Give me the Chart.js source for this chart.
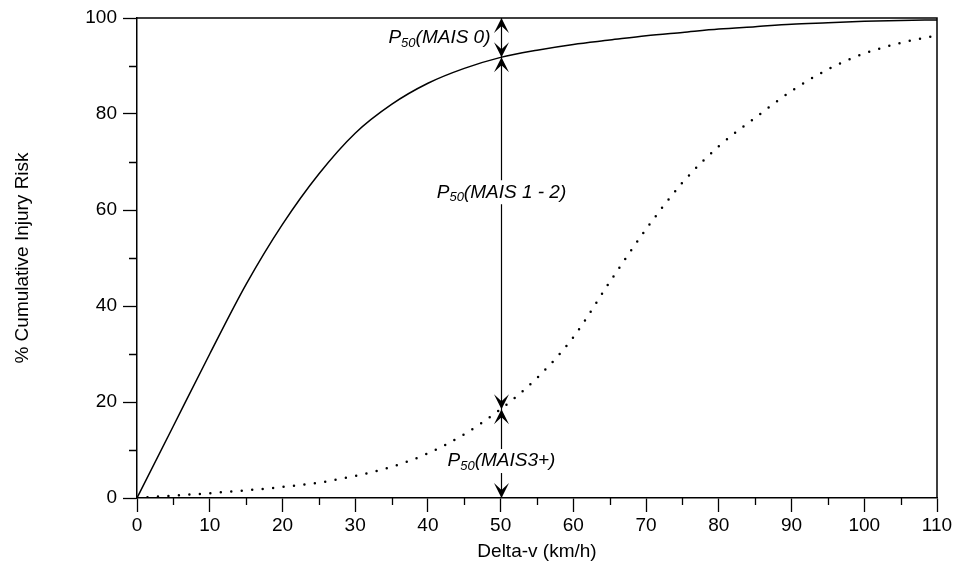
<!DOCTYPE html>
<html>
<head>
<meta charset="utf-8">
<script src="https://cdn.jsdelivr.net/npm/chart.js@4.4.1/dist/chart.umd.min.js"></script>
<style>
  html, body { margin: 0; padding: 0; background: #fff; }
  #wrap { width: 956px; height: 572px; }
</style>
</head>
<body>
<div id="wrap"><canvas id="riskChart" width="956" height="572"></canvas></div>
<script>
// values
const deltaV = [0, 5, 10, 15, 20, 25, 30, 35, 40, 45, 50, 55, 60, 65, 70, 75, 80, 85, 90, 95, 100, 105, 110];
const riskMais1Plus = [0, 15, 30, 44.5, 57, 67.5, 76, 82, 86.4, 89.5, 91.8, 93.3, 94.5, 95.4, 96.3, 97, 97.7, 98.2, 98.7, 99, 99.3, 99.5, 99.6];
const riskMais3Plus = [0, 0.5, 1.0, 1.6, 2.3, 3.2, 4.6, 6.5, 9.3, 13.3, 18.5, 25, 33.5, 45, 56, 65.7, 73.3, 79.2, 84.8, 89.3, 92.6, 94.8, 96.4];

const xMinorTicks = [5, 15, 25, 35, 45, 55, 65, 75, 85, 95, 105];
const yMinorTicks = [10, 30, 50, 70, 90];

// P50 arrows sit at 50 km/h
const p50Speed = 50;
const p50Labels = ['MAIS 0', 'MAIS 1 - 2', 'MAIS3+'];

const FONT = '"Liberation Sans", Arial, sans-serif';

const toXY = arr => deltaV.map((x, i) => ({ x: x, y: arr[i] }));
const valueAt = arr => arr[deltaV.indexOf(p50Speed)];

// frame + minor ticks
const framePlugin = {
  id: 'frame',
  afterDraw(chart) {
    const { ctx, chartArea: a, scales: { x, y } } = chart;
    ctx.save();
    ctx.strokeStyle = '#000';
    ctx.lineWidth = 1.5;
    ctx.beginPath();
    ctx.moveTo(a.left, a.top);
    ctx.lineTo(a.right, a.top);
    ctx.lineTo(a.right, a.bottom);
    ctx.stroke();

    ctx.lineWidth = 1.3;
    ctx.beginPath();
    xMinorTicks.forEach(v => {
      const px = Math.round(x.getPixelForValue(v)) + 0.5;
      ctx.moveTo(px, a.bottom);
      ctx.lineTo(px, a.bottom + 7);
    });
    yMinorTicks.forEach(v => {
      const py = Math.round(y.getPixelForValue(v)) + 0.5;
      ctx.moveTo(a.left, py);
      ctx.lineTo(a.left - 8, py);
    });
    ctx.stroke();
    ctx.restore();
  }
};

function arrowHead(ctx, px, py, dir) {
  // dir: -1 points up, 1 points down
  ctx.beginPath();
  ctx.moveTo(px, py);
  ctx.lineTo(px - 7.5, py - dir * 15);
  ctx.lineTo(px, py - dir * 8);
  ctx.lineTo(px + 7.5, py - dir * 15);
  ctx.closePath();
  ctx.fill();
}

function labelP50(ctx, text, px, py, align) {
  const big = 'italic 19px ' + FONT;
  const small = 'italic 13px ' + FONT;
  ctx.font = big;
  const wP = ctx.measureText('P').width;
  const wRest = ctx.measureText('(' + text + ')').width;
  ctx.font = small;
  const wSub = ctx.measureText('50').width;
  const total = wP + wSub + wRest;
  let x0 = align === 'right' ? px - total : px - total / 2;
  if (align !== 'right') {
    ctx.fillStyle = '#fff';
    ctx.fillRect(x0 - 2, py - 12, total + 4, 24);
  }
  ctx.fillStyle = '#000';
  ctx.textBaseline = 'middle';
  ctx.textAlign = 'left';
  ctx.font = big;
  ctx.fillText('P', x0, py);
  ctx.font = small;
  ctx.fillText('50', x0 + wP, py + 5);
  ctx.font = big;
  ctx.fillText('(' + text + ')', x0 + wP + wSub, py);
}

const arrowPlugin = {
  id: 'p50arrows',
  afterDatasetsDraw(chart) {
    const { ctx, scales: { x, y } } = chart;
    const px = Math.round(x.getPixelForValue(p50Speed)) + 0.5;
    const yTop = y.getPixelForValue(100);
    const yA = y.getPixelForValue(valueAt(riskMais1Plus));
    const yB = y.getPixelForValue(valueAt(riskMais3Plus));
    const yBot = y.getPixelForValue(0);
    ctx.save();
    ctx.strokeStyle = '#000';
    ctx.fillStyle = '#000';
    ctx.lineWidth = 1.2;
    ctx.beginPath();
    ctx.moveTo(px, yTop);
    ctx.lineTo(px, yBot);
    ctx.stroke();
    [[yTop, yA], [yA, yB], [yB, yBot]].forEach(([a, b]) => {
      arrowHead(ctx, px, a, -1);
      arrowHead(ctx, px, b, 1);
    });
    labelP50(ctx, p50Labels[0], px - 11, y.getPixelForValue(95.8), 'right');
    labelP50(ctx, p50Labels[1], px, y.getPixelForValue(63.7), 'center');
    labelP50(ctx, p50Labels[2], px, y.getPixelForValue(7.7), 'center');
    ctx.restore();
  }
};

new Chart(document.getElementById('riskChart').getContext('2d'), {
  type: 'line',
  data: {
    datasets: [
      {
        label: 'MAIS 1+',
        data: toXY(riskMais1Plus),
        borderColor: '#000',
        borderWidth: 1.5,
        pointRadius: 0,
        cubicInterpolationMode: 'monotone',
        fill: false
      },
      {
        label: 'MAIS 3+',
        data: toXY(riskMais3Plus),
        borderColor: '#000',
        borderWidth: 2.5,
        borderDash: [0, 10.5],
        borderCapStyle: 'round',
        pointRadius: 0,
        cubicInterpolationMode: 'monotone',
        fill: false
      }
    ]
  },
  options: {
    responsive: false,
    animation: false,
    devicePixelRatio: 1,
    layout: { padding: { left: 0, right: 19, top: 18, bottom: 0 } },
    plugins: {
      legend: { display: false },
      tooltip: { enabled: false }
    },
    scales: {
      x: {
        type: 'linear',
        min: 0,
        max: 110,
        afterFit: s => { s.height = 74; },
        border: { display: true, color: '#000', width: 1.5 },
        grid: { drawOnChartArea: false, color: '#000', tickLength: 14, tickWidth: 1.3 },
        ticks: { stepSize: 10, color: '#000', padding: 2, maxRotation: 0, font: { family: FONT, size: 19 } },
        title: { display: true, text: 'Delta-v (km/h)', color: '#000', font: { family: FONT, size: 19 }, padding: { bottom: 9 } }
      },
      y: {
        min: 0,
        max: 100,
        afterFit: s => { s.width = 137; },
        border: { display: true, color: '#000', width: 1.5 },
        grid: { drawOnChartArea: false, color: '#000', tickLength: 14, tickWidth: 1.3 },
        ticks: { stepSize: 20, color: '#000', padding: 6, font: { family: FONT, size: 19 } },
        title: { display: true, text: '% Cumulative Injury Risk', color: '#000', font: { family: FONT, size: 19 }, padding: { top: 11 } }
      }
    }
  },
  plugins: [framePlugin, arrowPlugin]
});
</script>
</body>
</html>
